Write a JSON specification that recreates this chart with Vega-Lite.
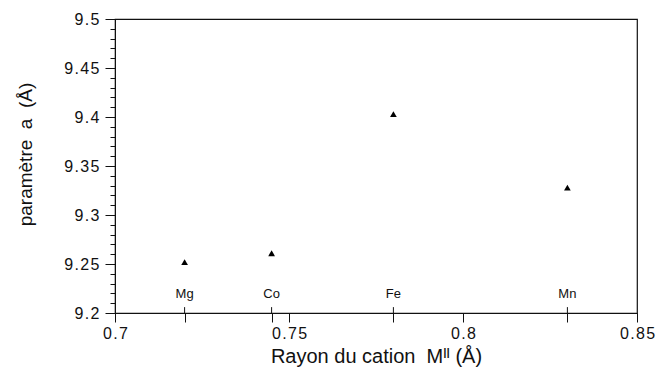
{
  "$schema": "https://vega.github.io/schema/vega-lite/v6.json",
  "autosize": "none",
  "width": 522,
  "height": 294,
  "padding": {"left": 115, "top": 19, "right": 21, "bottom": 66},
  "background": "white",
  "config": {
    "font": "Liberation Sans",
    "view": {"stroke": "#111", "strokeWidth": 1.2},
    "axis": {"domainColor": "#111", "tickColor": "#111", "labelColor": "#111", "titleColor": "#111", "grid": false, "labelFont": "Liberation Sans", "titleFont": "Liberation Sans", "titleFontWeight": "normal"}
  },
  "data": {
    "values": [
      {"cation": "Mg", "rayon": 0.72, "a": 9.252},
      {"cation": "Co", "rayon": 0.745, "a": 9.261},
      {"cation": "Fe", "rayon": 0.78, "a": 9.403},
      {"cation": "Mn", "rayon": 0.83, "a": 9.328}
    ]
  },
  "layer": [
    {
      "mark": {"type": "point", "shape": "triangle-up", "filled": true, "color": "#000", "size": 45, "opacity": 1},
      "encoding": {
        "x": {
          "field": "rayon", "type": "quantitative",
          "scale": {"domain": [0.7, 0.85], "nice": false, "zero": false},
          "axis": {
            "values": [0.7, 0.72, 0.745, 0.75, 0.78, 0.8, 0.83, 0.85],
            "tickCount": 50,
            "labelOverlap": false,
            "labelExpr": "abs(datum.value*20 - round(datum.value*20)) < 0.001 ? join(split(format(datum.value, '~g'), ''), '\u200a') : ''",
            "tickSize": 9, "labelFontSize": 16, "labelPadding": 3, "labelFlush": false,
            "title": "Rayon du cation\u00a0\u00a0Mᴵᴵ (Å)", "titleFontSize": 20, "titlePadding": 5
          }
        },
        "y": {
          "field": "a", "type": "quantitative",
          "scale": {"domain": [9.2, 9.5], "nice": false, "zero": false},
          "axis": {
            "values": [9.2, 9.21, 9.22, 9.23, 9.24, 9.25, 9.26, 9.27, 9.28, 9.29, 9.3, 9.31, 9.32, 9.33, 9.34, 9.35, 9.36, 9.37, 9.38, 9.39, 9.4, 9.41, 9.42, 9.43, 9.44, 9.45, 9.46, 9.47, 9.48, 9.49, 9.5],
            "tickCount": 100,
            "labelOverlap": false,
            "labelExpr": "abs(datum.value*20 - round(datum.value*20)) < 0.001 ? join(split(format(datum.value, '~g'), ''), '\u200a') : ''",
            "tickSize": {"condition": {"test": "abs(datum.value*20 - round(datum.value*20)) < 0.001", "value": 10}, "value": 5},
            "labelFontSize": 16, "labelPadding": 6, "labelFlush": false,
            "title": "paramètre\u00a0\u00a0a\u00a0\u00a0(Å)", "titleFontSize": 19,
            "titleX": -90, "titleY": 135, "titleAngle": 270, "titleAlign": "center", "titleBaseline": "middle"
          }
        }
      }
    },
    {
      "mark": {"type": "rule", "color": "#111", "strokeWidth": 1},
      "encoding": {
        "x": {"field": "rayon", "type": "quantitative"},
        "y": {"datum": 9.2},
        "y2": {"datum": 9.206}
      }
    },
    {
      "mark": {"type": "text", "fontSize": 13, "color": "#111", "baseline": "middle", "align": "center"},
      "encoding": {
        "x": {"field": "rayon", "type": "quantitative"},
        "y": {"datum": 9.219},
        "text": {"field": "cation"}
      }
    }
  ]
}
